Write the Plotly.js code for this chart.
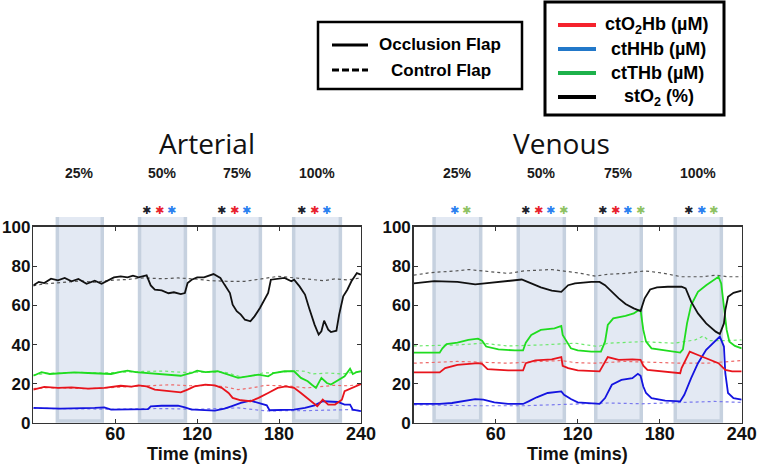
<!DOCTYPE html>
<html>
<head>
<meta charset="utf-8">
<script src="https://cdn.plot.ly/plotly-3.0.1.min.js"></script>
<style>html,body{margin:0;padding:0;background:#fff;}#chart{width:759px;height:464px;}</style>
</head>
<body>
<div id="chart"></div>
<script>
// ---------------- DATA ----------------
// Arterial panel
const art_st_occ_t = [0,4,8,13,18,23,28,33,39,45,50,55,59,64,69,73,77,83,86,89,94,99,103,108,111,113,116,120,125,132,137,140,144,146,149,152,155,159,162,166,169,172,174,179,184,189,191,195,199,202,206,209,211,213,216,218,222,224,227,230,233,237,240];
const art_st_occ_v = [70.2,72,71.4,73.6,72.8,74,72.3,73.5,71,72.6,71,73,74.3,74.8,74.3,75.2,74.3,75.3,70.2,68,67.7,66.2,66.7,65.8,66.3,71.4,73.1,74.3,74.3,76,74,70.6,66.3,60.4,57,55.3,52.7,51.9,54.4,58.7,62.9,66.3,73.1,73.6,74,72.3,73.1,69.7,65.5,58.7,50.2,45.1,46.8,52.2,47.6,46.4,47.1,55.3,64.6,68,72.3,76.5,75.7];
const art_st_ctl_t = [0,8,16,25,35,45,57,68,81,95,106,118,130,142,155,167,179,192,204,213,221,230,240];
const art_st_ctl_v = [70,71,71.4,72,72.5,71.8,72.8,73.2,74,73.6,74,73.5,72.6,72.3,72.3,73.5,74.8,74,73.1,72.6,73.5,73,74];
const art_thb_occ_t = [0,6,12,20,30,40,50,57,63,69,75,81,88,94,101,108,113,116,120,126,135,142,150,157,165,172,176,184,191,196,201,204,207,211,215,218,223,228,232,234,237,240];
const art_thb_occ_v = [24.1,25.9,25,25.2,25.8,25.5,25.2,25,26,26.7,26,25.7,25.3,25,24.6,24.1,25,25.5,26.7,26,26.4,24.7,23,23.8,24.7,23.8,25.5,26.4,26.4,23,21.3,19.5,17.9,23,20.4,19.6,21.6,23.8,27.7,25,26,26.4];
const art_thb_ctl_t = [0,10,20,35,50,65,80,95,110,125,140,152,160,168,180,192,199,204,210,216,226,233,240];
const art_thb_ctl_v = [24.5,25.3,25.5,25.8,25.5,26,26.3,26.5,25.8,26,26,23.5,24,25.5,25.8,26.7,26.4,25,25.3,25.5,25,25.8,26.4];
const art_o2_occ_t = [0,8,18,28,40,52,64,72,77,83,89,94,99,104,108,113,118,126,133,138,143,146,152,159,165,172,179,185,191,196,202,208,212,216,221,226,228,233,240];
const art_o2_occ_v = [17,18.4,17.9,18.2,17.5,17.9,19,18.6,19.2,18.7,17,16.6,16.2,15.8,15.6,17,18.7,19.6,19.2,17.9,15.3,12.8,11.6,11.1,12.8,15.3,17.9,18.7,17.9,15.3,11.9,8.5,11.9,9.4,9.4,11.9,16.2,17.9,19.9];
const art_o2_ctl_t = [0,10,25,40,55,70,85,100,115,130,140,150,160,170,185,200,210,220,230,240];
const art_o2_ctl_v = [17.5,18,17.8,17.5,18,18.5,19.2,19.5,19,19.2,18.5,17,17.9,19.2,19,17.9,18.5,19.2,19,19.6];
const art_hhb_occ_t = [0,20,45,52,57,77,84,86,94,106,111,116,118,133,140,145,152,159,166,171,173,182,191,199,206,212,218,223,228,232,234,240];
const art_hhb_occ_v = [7.7,7.3,7.7,8,6.8,6.8,7.1,8.5,8.8,8.8,8,6.8,6.8,6.3,7.3,8.5,10.2,11.4,10.2,9,6.5,6.8,6.8,7.7,9,11.1,10.7,10.7,9.4,9.4,6.8,6];
const art_hhb_ctl_t = [0,30,60,90,120,150,170,200,230,240];
const art_hhb_ctl_v = [7.5,7.2,7,7.4,7,7.7,6.2,6.3,6.8,6.3];

// Venous panel
const ven_st_occ_t = [0,15,32,45,52,67,79,86,93,101,108,113,118,130,136,140,145,150,155,161,166,167,169,173,178,186,196,199,203,208,214,221,224,227,228,230,234,240];
const ven_st_occ_v = [71.2,72.4,72,70.7,71.2,72.5,73.2,71.2,69.2,67.5,66.9,70.3,71.2,72,72,70.3,66.9,63.6,60.7,58.5,57.1,59.3,63.6,68.1,69.2,69.5,69.5,68.6,61.9,55.9,50.8,46.6,45.4,50.8,57.6,64.4,66.4,67.5];
const ven_st_ctl_t = [0,10,20,30,40,50,57,69,81,90,101,110,120,133,142,155,169,181,196,211,221,230,240];
const ven_st_ctl_v = [75.4,76.5,77.1,77.5,78.3,77.6,77.1,76.3,77.6,77.9,78.3,77.5,76.6,74.9,75.9,76.3,77.6,76.6,74.6,74.6,75.4,74.6,74.6];
const ven_thb_occ_t = [0,19,21,24,32,40,47,50,53,62,74,80,82,86,93,103,108,109,112,115,120,130,137,140,142,146,155,161,164,166,168,170,174,186,195,197,200,203,208,214,220,223,225,227,229,231,235,240];
const ven_thb_occ_v = [35.9,35.9,38.1,40.2,41,42.4,43,42,39,37.6,37,37,41,44.9,47.5,48.3,49.5,44.9,41.5,38.1,37,36.4,36.4,41.5,50,53.4,54.6,55.9,57.3,57.6,47.5,41.5,38.1,37,35.9,37.6,50.8,60.2,66.9,70.3,72.9,74.6,71.2,59.3,47.5,41.5,39.3,38.1];
const ven_thb_ctl_t = [0,15,32,50,69,93,113,118,135,142,167,191,206,212,216,228,240];
const ven_thb_ctl_v = [39.3,39.5,39.8,40.7,39.3,39.8,40.7,40.7,39,40.7,41.5,40.7,42.4,44.4,42,42,42.4];
const ven_o2_occ_t = [0,19,23,32,47,50,54,69,80,82,89,101,108,109,113,120,136,139,142,150,160,166,168,171,181,195,196,202,208,216,223,228,233,240];
const ven_o2_occ_v = [25.8,25.8,28,29.7,30.5,30.2,27.5,26.8,26.8,30.5,31.9,32.5,33.6,29.2,28,26.8,26.3,29.7,33.6,32.2,32.5,32.2,29.2,27.1,26.3,25.4,28,36.4,34.7,32.5,30.5,27.1,26.3,26.3];
const ven_o2_ctl_t = [0,15,32,50,69,93,108,118,133,154,179,196,215,228,240];
const ven_o2_ctl_v = [30.5,31,31.4,31,30.5,31.4,31.9,30.8,30.5,31.4,30.8,30.5,30.5,31.4,31.9];
const ven_hhb_occ_t = [0,19,28,37,45,51,59,69,80,84,90,98,108,110,115,120,136,140,145,152,160,164,166,168,170,174,184,195,198,203,208,214,220,224,227,228,230,234,240];
const ven_hhb_occ_v = [9.8,9.7,10.2,11.4,12.2,11.9,10.5,9.8,9.7,11,13.1,15.3,16.1,14.4,12.2,10.5,9.8,12.7,19.5,22,22.9,25.1,24.1,18.6,15.3,12.7,11.4,11,14.4,22.9,30.5,37.3,41.5,44.1,39,25.4,15.3,12.7,11.9];
const ven_hhb_ctl_t = [0,45,80,110,142,167,196,220,240];
const ven_hhb_ctl_v = [9.3,8.8,8.8,9.3,10.2,9.8,10.5,11,10.5];

// Occlusion periods (minutes) and labels
const art_band_start = [17.6, 77.8, 132.4, 190.7];
const art_band_end   = [50.5, 111.4, 166.3, 224.9];
const ven_band_start = [14.9, 76.5, 133.2, 191.4];
const ven_band_end   = [49.0, 110.2, 166.5, 225.1];
const band_labels = ['25%', '50%', '75%', '100%'];
// significance markers per band (st = stO2, o2 = ctO2Hb, hhb = ctHHb, thb = ctTHb)
const art_sig = [[], ['st','o2','hhb'], ['st','o2','hhb'], ['st','o2','hhb']];
const ven_sig = [['hhb','thb'], ['st','o2','hhb','thb'], ['st','o2','hhb','thb'], ['st','hhb','thb']];

const x_ticks = [60, 120, 180, 240];
const y_ticks = [0, 20, 40, 60, 80, 100];
const x_title = 'Time (mins)';
const panel_titles = ['Arterial', 'Venous'];
const legend_flap = ['Occlusion Flap', 'Control Flap'];
const legend_vars = ['ctO<sub>2</sub>Hb (µM)', 'ctHHb (µM)', 'ctTHb (µM)', 'stO<sub>2</sub> (%)'];

// ---------------- STYLE ----------------
const W = 759, H = 464;
const px = x => x / W;
const py = y => 1 - y / H;
const FONT = 'Liberation Sans, Arial, sans-serif';
const lineCol = {st: '#111111', o2: '#e8141c', hhb: '#1414e0', thb: '#1fdc1f'};
const dotCol  = {st: '#555555', o2: '#ee6a6a', hhb: '#7a7aee', thb: '#6be86b'};
const sigCol  = {st: '#1d1f2b', o2: '#e8202c', hhb: '#2a7ff0', thb: '#8ec262'};

function tr(t, v, key, ctl, xa, ya) {
  return {
    x: t, y: v, type: 'scatter', mode: 'lines', xaxis: xa, yaxis: ya, showlegend: false, hoverinfo: 'skip',
    line: ctl ? {color: dotCol[key], width: 1.2, dash: 'dot'} : {color: lineCol[key], width: 1.8}
  };
}

const traces = [
  tr(art_hhb_ctl_t, art_hhb_ctl_v, 'hhb', true, 'x', 'y'),
  tr(art_o2_ctl_t, art_o2_ctl_v, 'o2', true, 'x', 'y'),
  tr(art_thb_ctl_t, art_thb_ctl_v, 'thb', true, 'x', 'y'),
  tr(art_st_ctl_t, art_st_ctl_v, 'st', true, 'x', 'y'),
  tr(art_hhb_occ_t, art_hhb_occ_v, 'hhb', false, 'x', 'y'),
  tr(art_o2_occ_t, art_o2_occ_v, 'o2', false, 'x', 'y'),
  tr(art_thb_occ_t, art_thb_occ_v, 'thb', false, 'x', 'y'),
  tr(art_st_occ_t, art_st_occ_v, 'st', false, 'x', 'y'),
  tr(ven_hhb_ctl_t, ven_hhb_ctl_v, 'hhb', true, 'x2', 'y2'),
  tr(ven_o2_ctl_t, ven_o2_ctl_v, 'o2', true, 'x2', 'y2'),
  tr(ven_thb_ctl_t, ven_thb_ctl_v, 'thb', true, 'x2', 'y2'),
  tr(ven_st_ctl_t, ven_st_ctl_v, 'st', true, 'x2', 'y2'),
  tr(ven_hhb_occ_t, ven_hhb_occ_v, 'hhb', false, 'x2', 'y2'),
  tr(ven_o2_occ_t, ven_o2_occ_v, 'o2', false, 'x2', 'y2'),
  tr(ven_thb_occ_t, ven_thb_occ_v, 'thb', false, 'x2', 'y2'),
  tr(ven_st_occ_t, ven_st_occ_v, 'st', false, 'x2', 'y2')
];

const shapes = [];
const annotations = [];

function addBands(starts, ends, xref, sig, groupShift) {
  const yb = py(421), yt = py(217);
  for (let i = 0; i < starts.length; i++) {
    shapes.push({type: 'rect', xref: xref, yref: 'paper', x0: starts[i], x1: ends[i], y0: yb, y1: yt,
      fillcolor: '#e3e9f3', line: {width: 0}, layer: 'below'});
    shapes.push({type: 'path', xref: xref, yref: 'paper', layer: 'below',
      path: `M ${starts[i]},${yt} L ${starts[i]},${yb} L ${ends[i]},${yb} L ${ends[i]},${yt}`,
      line: {color: '#c6d1df', width: 3.5}});
    const c = (starts[i] + ends[i]) / 2;
    annotations.push({xref: xref, yref: 'paper', x: c, y: py(173), text: band_labels[i], showarrow: false,
      xanchor: 'center', yanchor: 'middle', font: {family: FONT, size: 14, weight: 'bold', color: '#1a1a1a'}});
    const n = sig[i].length;
    sig[i].forEach((k, j) => {
      annotations.push({xref: xref, yref: 'paper', x: c, y: py(211), text: '✱', showarrow: false,
        xshift: groupShift + (j - (n - 1) / 2) * 12.5, xanchor: 'center', yanchor: 'middle',
        font: {family: 'DejaVu Sans', size: 11, color: sigCol[k]}});
    });
  }
}
addBands(art_band_start, art_band_end, 'x', art_sig, -3);
addBands(ven_band_start, ven_band_end, 'x2', ven_sig, 3);

// panel titles
annotations.push({xref: 'paper', yref: 'paper', x: px(207), y: py(143), text: panel_titles[0], showarrow: false,
  xanchor: 'center', yanchor: 'middle', font: {family: 'Open Sans', size: 28, color: '#111'}});
annotations.push({xref: 'paper', yref: 'paper', x: px(561), y: py(143), text: panel_titles[1], showarrow: false,
  xanchor: 'center', yanchor: 'middle', font: {family: 'Open Sans', size: 28, color: '#111'}});
// x axis titles
annotations.push({xref: 'paper', yref: 'paper', x: px(197), y: py(454), text: x_title, showarrow: false,
  xanchor: 'center', yanchor: 'middle', font: {family: FONT, size: 18, weight: 'bold', color: '#111'}});
annotations.push({xref: 'paper', yref: 'paper', x: px(577), y: py(454), text: x_title, showarrow: false,
  xanchor: 'center', yanchor: 'middle', font: {family: FONT, size: 18, weight: 'bold', color: '#111'}});

// legend 1 (flap)
shapes.push({type: 'rect', xref: 'paper', yref: 'paper', x0: px(318), x1: px(522), y0: py(89), y1: py(22),
  line: {color: '#000', width: 2.5}, fillcolor: 'rgba(0,0,0,0)'});
shapes.push({type: 'line', xref: 'paper', yref: 'paper', x0: px(332), x1: px(368), y0: py(45), y1: py(45),
  line: {color: '#000', width: 3}});
shapes.push({type: 'line', xref: 'paper', yref: 'paper', x0: px(332), x1: px(368), y0: py(70), y1: py(70),
  line: {color: '#000', width: 3, dash: '7px,3px'}});
annotations.push({xref: 'paper', yref: 'paper', x: px(440), y: py(45), text: legend_flap[0], showarrow: false,
  xanchor: 'center', yanchor: 'middle', font: {family: FONT, size: 17, weight: 'bold', color: '#000'}});
annotations.push({xref: 'paper', yref: 'paper', x: px(441), y: py(70), text: legend_flap[1], showarrow: false,
  xanchor: 'center', yanchor: 'middle', font: {family: FONT, size: 17, weight: 'bold', color: '#000'}});

// legend 2 (variables)
shapes.push({type: 'rect', xref: 'paper', yref: 'paper', x0: px(545), x1: px(724), y0: py(115), y1: py(2),
  line: {color: '#000', width: 3}, fillcolor: 'rgba(0,0,0,0)'});
const legCols = ['#f5222d', '#2278c9', '#1db14b', '#000000'];
const legY = [25, 49, 73, 97];
const legX = [656, 658, 657, 659];
legend_vars.forEach((s, i) => {
  shapes.push({type: 'line', xref: 'paper', yref: 'paper', x0: px(558), x1: px(596), y0: py(legY[i]), y1: py(legY[i]),
    line: {color: legCols[i], width: 4}});
  annotations.push({xref: 'paper', yref: 'paper', x: px(legX[i]), y: py(legY[i]), text: s, showarrow: false,
    xanchor: 'center', yanchor: 'middle', font: {family: FONT, size: 18, weight: 'bold', color: '#000'}});
});

function xAxis(d) {
  return {domain: d, range: [0, 240], tickvals: x_ticks, ticks: 'inside', ticklen: 4, tickcolor: '#333',
    showline: true, linecolor: '#333', linewidth: 1.5, mirror: 'ticks', showgrid: false, zeroline: false,
    ticklabelstandoff: -6,
    tickfont: {family: FONT, size: 18, weight: 'bold', color: '#111'}};
}
function yAxis(anchor) {
  return {domain: [0.0884, 0.5108], range: [0, 100], tickvals: y_ticks, ticks: 'inside', ticklen: 4, tickcolor: '#333',
    showline: true, linecolor: '#333', linewidth: 1.5, mirror: 'ticks', showgrid: false, zeroline: false, anchor: anchor,
    ticklabelstandoff: -2,
    tickfont: {family: FONT, size: 17, weight: 'bold', color: '#111'}};
}

const layout = {
  width: W, height: H, margin: {l: 0, r: 0, t: 0, b: 0}, paper_bgcolor: '#fff', plot_bgcolor: 'rgba(0,0,0,0)',
  showlegend: false,
  xaxis: Object.assign(xAxis([0.0439, 0.4756]), {anchor: 'y'}),
  yaxis: yAxis('x'),
  xaxis2: Object.assign(xAxis([0.5451, 0.9772]), {anchor: 'y2'}),
  yaxis2: yAxis('x2'),
  shapes: shapes, annotations: annotations
};

Plotly.newPlot('chart', traces, layout, {displayModeBar: false, staticPlot: true});
</script>
</body>
</html>
